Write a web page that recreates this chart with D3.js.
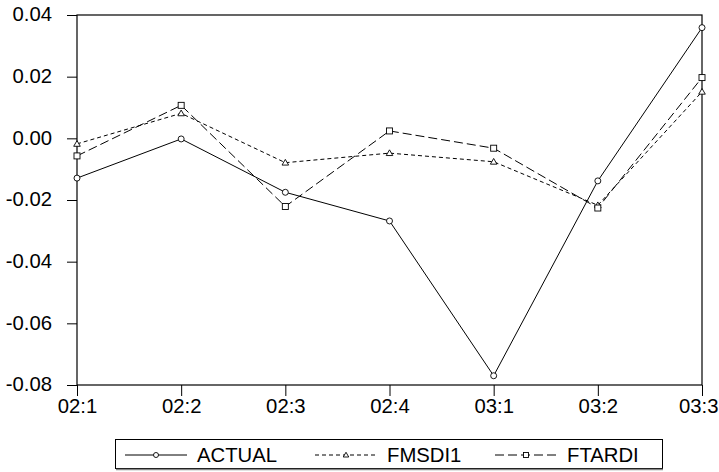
<!DOCTYPE html>
<html>
<head>
<meta charset="utf-8">
<script src="https://cdn.jsdelivr.net/npm/d3@7"></script>
<style>
  body { margin: 0; background: #fff; }
  svg { display: block; font-family: "Liberation Sans", Arial, sans-serif; }
</style>
</head>
<body>
<div id="chart"></div>
<script>
"use strict";

const width = 719;
const height = 472;

const plotLeft = 77;
const plotRight = 702;
const plotTop = 15;
const plotBottom = 385;

const fontSize = "20.3px";

const quarters = ["02:1", "02:2", "02:3", "02:4", "03:1", "03:2", "03:3"];
const yTicks = [0.04, 0.02, 0.0, -0.02, -0.04, -0.06, -0.08];

const actual = [-0.0129, -0.0002, -0.0175, -0.0268, -0.0770, -0.0138, 0.0359];
const fmsdi1 = [-0.0018, 0.0081, -0.0079, -0.0048, -0.0076, -0.0217, 0.0151];
const ftardi = [-0.0057, 0.0107, -0.0221, 0.0024, -0.0032, -0.0226, 0.0197];

const series = [
  { name: "ACTUAL", values: actual, dash: null, marker: "circle", legendX: 125 },
  { name: "FMSDI1", values: fmsdi1, dash: "4,3", marker: "triangle", legendX: 315 },
  { name: "FTARDI", values: ftardi, dash: "9,4", marker: "square", legendX: 495 },
];

const xScale = d3.scalePoint().domain(quarters).range([plotLeft, plotRight]);
const yScale = d3.scaleLinear().domain([-0.08, 0.04]).range([plotBottom, plotTop]);

const svg = d3
  .select("#chart")
  .append("svg")
  .attr("width", width)
  .attr("height", height);

// frame
svg
  .append("rect")
  .attr("x", plotLeft)
  .attr("y", plotTop)
  .attr("width", plotRight - plotLeft)
  .attr("height", plotBottom - plotTop)
  .attr("fill", "none")
  .attr("stroke", "#000")
  .attr("stroke-width", 1.2);

// plain hyphen for negatives, like the original
const fmt = (d) => d.toFixed(2);

const yAxis = d3
  .axisLeft(yScale)
  .tickValues(yTicks)
  .tickSize(10)
  .tickPadding(15)
  .tickFormat(fmt);

const xAxis = d3.axisBottom(xScale).tickSize(11).tickPadding(3);

const gy = svg
  .append("g")
  .attr("transform", `translate(${plotLeft}, 0)`)
  .call(yAxis);

const gx = svg
  .append("g")
  .attr("transform", `translate(0, ${plotBottom})`)
  .call(xAxis);

[gx, gy].forEach((g) => {
  g.select(".domain").remove();
  g.selectAll("line").attr("stroke", "#000");
  g.selectAll("text")
    .attr("fill", "#000")
    .style("font-size", fontSize)
    .style("font-family", "Liberation Sans, Arial, sans-serif");
});
gy.selectAll("text").attr("dy", "0.28em");

// last quarter label is pushed in so it stays on the page
gx.selectAll(".tick")
  .filter((d) => d === quarters[quarters.length - 1])
  .select("text")
  .attr("text-anchor", "end")
  .attr("x", width - 1 - plotRight);

const drawMarker = (g, type, x, y, s) => {
  if (type === "circle") {
    g.append("circle")
      .attr("cx", x)
      .attr("cy", y)
      .attr("r", s)
      .attr("fill", "#fff")
      .attr("stroke", "#000")
      .attr("stroke-width", 0.9);
  } else if (type === "triangle") {
    g.append("path")
      .attr("d", `M${x},${y - s * 1.1}L${x + s * 1.1},${y + s * 0.8}L${x - s * 1.1},${y + s * 0.8}Z`)
      .attr("fill", "#fff")
      .attr("stroke", "#000")
      .attr("stroke-width", 0.9);
  } else {
    g.append("rect")
      .attr("x", x - s)
      .attr("y", y - s)
      .attr("width", s * 2)
      .attr("height", s * 2)
      .attr("fill", "#fff")
      .attr("stroke", "#000")
      .attr("stroke-width", 0.9);
  }
};

const line = d3
  .line()
  .x((d, i) => xScale(quarters[i]))
  .y((d) => yScale(d));

series.forEach((s) => {
  const g = svg.append("g");
  g.append("path")
    .datum(s.values)
    .attr("d", line)
    .attr("fill", "none")
    .attr("stroke", "#000")
    .attr("stroke-width", 1)
    .attr("stroke-dasharray", s.dash);
  s.values.forEach((v, i) => {
    drawMarker(g, s.marker, xScale(quarters[i]), yScale(v), 3);
  });
});

// legend
const legend = svg.append("g");
legend
  .append("rect")
  .attr("x", 115.5)
  .attr("y", 439.5)
  .attr("width", 547)
  .attr("height", 29)
  .attr("fill", "#fff")
  .attr("stroke", "#000")
  .attr("stroke-width", 1);
legend
  .append("line")
  .attr("x1", 116)
  .attr("x2", 663)
  .attr("y1", 469.5)
  .attr("y2", 469.5)
  .attr("stroke", "#888")
  .attr("stroke-width", 1.5);

const legendY = 455;
series.forEach((s) => {
  legend
    .append("line")
    .attr("x1", s.legendX)
    .attr("x2", s.legendX + 62)
    .attr("y1", legendY)
    .attr("y2", legendY)
    .attr("stroke", "#000")
    .attr("stroke-width", 1)
    .attr("stroke-dasharray", s.dash);
  drawMarker(legend, s.marker, s.legendX + 31, legendY, 2.5);
  legend
    .append("text")
    .attr("x", s.legendX + 72)
    .attr("y", legendY)
    .attr("dy", "0.36em")
    .style("font-size", fontSize)
    .text(s.name);
});
</script>
</body>
</html>
